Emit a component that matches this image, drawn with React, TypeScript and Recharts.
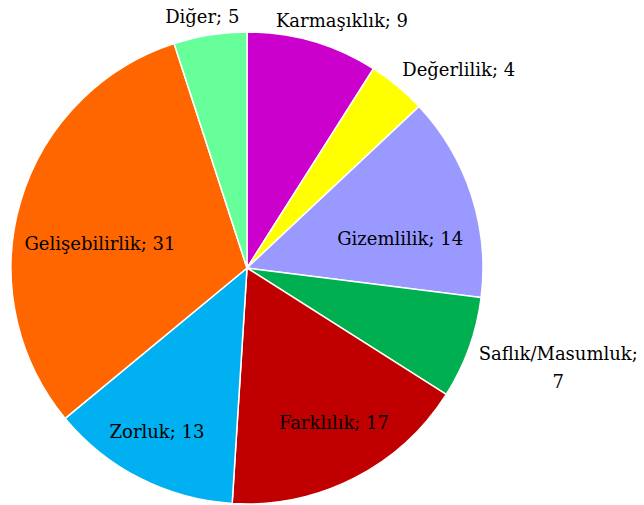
import React from "react";
import { PieChart, Pie, Cell } from "recharts";

const categories = [
  "Karmaşıklık",
  "Değerlilik",
  "Gizemlilik",
  "Saflık/Masumluk",
  "Farklılık",
  "Zorluk",
  "Gelişebilirlik",
  "Diğer",
];
const values = [9, 4, 14, 7, 17, 13, 31, 5];
const colors = [
  "#CC00CC",
  "#FFFF00",
  "#9999FF",
  "#00B050",
  "#C00000",
  "#00B0F0",
  "#FF6600",
  "#66FF99",
];

// label placement: radius along mid angle, plus small nudges; wrap = break after ";"
const labelLayout = [
  { r: 258, dx: 23, dy: 0, wrap: false },
  { r: 260, dx: 46, dy: 1.5, wrap: false },
  { r: 160, dx: 1, dy: 20, wrap: false },
  { r: 300, dx: 29, dy: -2, wrap: true },
  { r: 175, dx: 7.5, dy: -1, wrap: false },
  { r: 185, dx: -6, dy: -1, wrap: false },
  { r: 150, dx: -3, dy: 17, wrap: false },
  { r: 254, dx: -5, dy: -1, wrap: false },
];

const data = categories.map((name, i) => ({ name, value: values[i] }));

const FONT = "'DejaVu Serif', serif";

const renderLabel = (props: any) => {
  const { cx, cy, midAngle, index } = props;
  const lay = labelLayout[index];
  const rad = (midAngle * Math.PI) / 180;
  const x = cx + lay.r * Math.cos(rad) + lay.dx;
  const y = cy - lay.r * Math.sin(rad) + lay.dy;
  const name = categories[index];
  const val = values[index];
  if (lay.wrap) {
    return (
      <text
        key={`l-${index}`}
        x={x}
        y={y}
        textAnchor="middle"
        fontFamily={FONT}
        fontSize={18}
        fill="#000"
      >
        <tspan x={x} dy={-14} dominantBaseline="central">{`${name};`}</tspan>
        <tspan x={x} dy={28} dominantBaseline="central">{`${val}`}</tspan>
      </text>
    );
  }
  return (
    <text
      key={`l-${index}`}
      x={x}
      y={y}
      textAnchor="middle"
      dominantBaseline="central"
      fontFamily={FONT}
      fontSize={18}
      fill="#000"
    >
      {`${name}; ${val}`}
    </text>
  );
};

export default function App() {
  return (
    <div style={{ position: "absolute", left: 0, top: 0, background: "#fff" }}>
      <PieChart
        width={644}
        height={505}
        margin={{ top: 0, right: 0, bottom: 0, left: 0 }}
      >
        <Pie
          data={data}
          dataKey="value"
          nameKey="name"
          cx={247}
          cy={268}
          outerRadius={236}
          startAngle={90}
          endAngle={-270}
          stroke="#ffffff"
          strokeWidth={1.5}
          label={renderLabel}
          labelLine={false}
          isAnimationActive={false}
        >
          {data.map((d, i) => (
            <Cell key={d.name} fill={colors[i]} />
          ))}
        </Pie>
      </PieChart>
    </div>
  );
}
